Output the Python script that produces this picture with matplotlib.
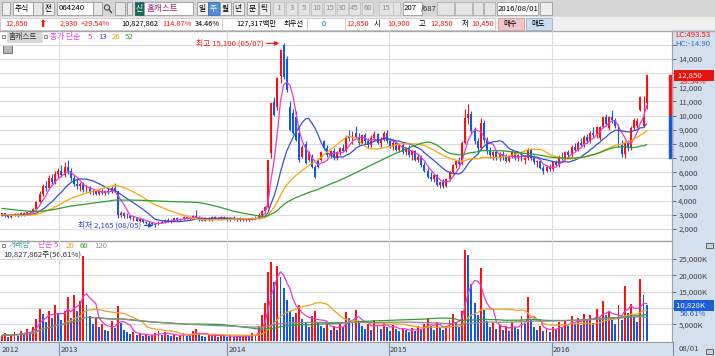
import pandas as pd
import matplotlib.pyplot as plt
from matplotlib.patches import Rectangle, Circle
from matplotlib.transforms import blended_transform_factory

plt.rcParams['font.family'] = ['Noto Sans CJK KR', 'DejaVu Sans']

W, H = 715, 356

# closes of the 51 weeks before the first visible candle (only feed the moving averages)
hist_closes = [4300, 4250, 4200, 4300, 4150, 4100, 4200, 4050, 4000, 4100, 3950, 3900, 4000, 3850, 3800, 3900, 3750, 3700,
               3800, 3650, 3600, 3700, 3550, 3500, 3450, 3400, 3300, 3250, 3200, 3150, 3100, 3050, 3100, 3000, 2950, 3000,
               2900, 2950, 2900, 2850, 2900, 2950, 2900, 2950, 3000, 2950, 3000, 2900, 2950, 3000, 3050]

# weekly candles (won)
opens = [3000, 3100, 2900, 2850, 2950, 3050, 2950, 3100, 3050, 3200, 3250, 3400, 3900, 4500, 5000, 4900, 5600, 5300, 5900, 6100,
         5800, 6400, 6100, 5600, 5200, 5000, 5150, 4750, 4950, 4600, 4700, 4500, 4650, 4550, 4700, 4600, 4900, 4650, 3000, 3100,
         2900, 2950, 2750, 2800, 2600, 2700, 2500, 2450, 2400, 2350, 2300, 2500, 2450, 2650, 2550, 2600, 2750, 2650, 2700, 2850,
         2750, 2800, 2950, 2850, 2650, 2600, 2750, 2650, 2850, 2750, 2700, 2850, 2750, 2650, 2800, 2700, 2750, 2650, 2700, 2650,
         2700, 2800, 2750, 3000, 3250, 3550, 7350, 10950, 10600, 12800, 15000, 14000, 10600, 10200, 9900, 8800, 7100, 8000, 6900, 7100,
         6400, 6800, 6900, 8200, 7700, 7200, 7500, 7000, 7400, 7700, 7500, 8500, 8400, 8800, 8500, 8100, 8600, 8200, 7900, 8400,
         8700, 8100, 8300, 8800, 8200, 7800, 8100, 7600, 7900, 7400, 7700, 7200, 7500, 6900, 7100, 6500, 6100, 5700, 5500, 5800,
         5100, 5300, 5000, 5500, 6000, 6500, 6800, 6600, 8100, 9800, 10100, 8900, 8200, 7700, 9500, 8300, 7500, 7200, 7400, 7000,
         7300, 7100, 6800, 7100, 7400, 7000, 7200, 6900, 7000, 7600, 7000, 6700, 6800, 6300, 6100, 6400, 6200, 6700, 6500, 7100,
         7000, 7400, 7200, 7800, 7600, 8100, 7900, 8500, 8200, 8800, 8600, 8400, 9200, 9900, 9100, 9900, 9700, 9300, 7900, 7300,
         8100, 7700, 9100, 9300, 10400, 9300, 10900]
highs = [3150, 3150, 3000, 3050, 3150, 3100, 3200, 3200, 3300, 3350, 3500, 4000, 4700, 5200, 5400, 5800, 5900, 6100, 6300, 6500,
         6700, 6900, 6300, 5800, 5500, 5300, 5300, 5100, 5000, 4800, 4800, 4750, 4800, 4750, 4900, 5000, 5250, 4700, 3300, 3200,
         3100, 3000, 2900, 2850, 2750, 2750, 2600, 2550, 2500, 2450, 2550, 2650, 2700, 2750, 2700, 2800, 2850, 2800, 2900, 3000,
         2900, 3000, 3350, 2950, 2750, 2800, 2850, 2900, 2950, 2850, 2900, 2950, 2850, 2850, 2900, 2800, 2850, 2800, 2800, 2750,
         2850, 2900, 3100, 3350, 3600, 6900, 10900, 11300, 12700, 14700, 15100, 14200, 11000, 10500, 10300, 9200, 7900, 8200, 7500, 7300,
         6500, 7000, 7500, 8300, 7900, 7600, 7700, 7500, 7800, 8000, 8600, 9000, 8900, 9300, 8800, 8700, 8800, 8400, 8600, 8900,
         8800, 8500, 8900, 9000, 8400, 8300, 8200, 8000, 8100, 7800, 7900, 7600, 7600, 7300, 7200, 6700, 6300, 6000, 5900, 5900,
         5400, 5500, 5600, 6100, 6600, 6900, 7100, 8200, 10500, 10800, 10300, 9200, 8400, 9800, 9700, 8500, 7800, 7500, 7600, 7400,
         7500, 7300, 7200, 7600, 7500, 7300, 7400, 7100, 7700, 7700, 7200, 6900, 6900, 6500, 6500, 6600, 6800, 6900, 7200, 7400,
         7500, 7600, 7900, 8100, 8200, 8400, 8600, 8700, 8900, 9200, 9300, 9300, 10000, 10100, 10000, 10400, 9800, 9400, 8300, 8200,
         8300, 9300, 9800, 9800, 11400, 11400, 12850]
lows = [2900, 2850, 2750, 2800, 2900, 2850, 2900, 2950, 3000, 3100, 3200, 3350, 3800, 4300, 4700, 4800, 5100, 5200, 5600, 5700,
        5700, 5900, 5400, 5000, 4800, 4700, 4600, 4600, 4450, 4400, 4400, 4400, 4450, 4400, 4500, 4550, 4600, 2800, 2850, 2800,
        2750, 2650, 2600, 2550, 2500, 2450, 2350, 2300, 2250, 2165, 2250, 2400, 2400, 2500, 2450, 2550, 2600, 2550, 2650, 2700,
        2650, 2750, 2800, 2600, 2550, 2550, 2600, 2600, 2700, 2650, 2650, 2700, 2600, 2600, 2650, 2600, 2600, 2550, 2600, 2550,
        2650, 2700, 2700, 2950, 3150, 3500, 7000, 10000, 10400, 12300, 12600, 11700, 8900, 8700, 8200, 6700, 7000, 6600, 6800, 6300,
        5600, 6300, 6800, 7600, 7100, 7000, 6900, 6900, 7200, 7400, 7400, 8200, 8000, 8400, 7900, 8000, 8000, 7700, 7800, 8200,
        8000, 7800, 8200, 8100, 7700, 7600, 7500, 7400, 7300, 7200, 7100, 6900, 6800, 6700, 6400, 6000, 5600, 5400, 5300, 5000,
        4900, 4900, 4950, 5400, 5900, 6300, 6500, 6500, 8000, 9400, 8700, 8000, 7500, 7600, 8100, 7300, 7000, 6900, 6900, 6800,
        6900, 6700, 6700, 7000, 6900, 6800, 6800, 6600, 6900, 6900, 6600, 6400, 6200, 5900, 6000, 6100, 6100, 6400, 6400, 6900,
        6900, 7100, 7100, 7500, 7500, 7800, 7800, 8100, 8100, 8500, 8400, 8300, 9100, 9300, 9000, 9500, 9100, 7800, 7100, 7000,
        7500, 7600, 9000, 9100, 10300, 9200, 10450]
closes = [3100, 2900, 2850, 2950, 3050, 2950, 3100, 3050, 3200, 3250, 3400, 3900, 4500, 5000, 4900, 5600, 5300, 5900, 6100, 5800,
          6400, 6100, 5600, 5200, 5000, 5150, 4750, 4950, 4600, 4700, 4500, 4650, 4550, 4700, 4600, 4900, 4650, 3000, 3100, 2900,
          2950, 2750, 2800, 2600, 2700, 2500, 2450, 2400, 2350, 2300, 2500, 2450, 2650, 2550, 2600, 2750, 2650, 2700, 2850, 2750,
          2800, 2950, 2850, 2650, 2600, 2750, 2650, 2850, 2750, 2700, 2850, 2750, 2650, 2800, 2700, 2750, 2650, 2700, 2650, 2700,
          2800, 2750, 3000, 3250, 3550, 6870, 10900, 10050, 12650, 14600, 12700, 11800, 9000, 8800, 8300, 6900, 7800, 6650, 7400, 6400,
          5700, 6400, 7400, 7700, 7200, 7500, 7000, 7400, 7700, 7500, 8500, 8400, 8800, 8500, 8100, 8600, 8200, 7900, 8400, 8700,
          8100, 8300, 8800, 8200, 7800, 8100, 7600, 7900, 7400, 7700, 7200, 7500, 6900, 7100, 6500, 6100, 5700, 5500, 5800, 5100,
          5300, 5000, 5500, 6000, 6500, 6800, 6600, 8100, 9800, 10100, 8900, 8200, 7700, 9500, 8300, 7500, 7200, 7400, 7000, 7300,
          7100, 6800, 7100, 7400, 7000, 7200, 6900, 7000, 7600, 7000, 6700, 6800, 6300, 6100, 6400, 6200, 6700, 6500, 7100, 7000,
          7400, 7200, 7800, 7600, 8100, 7900, 8500, 8200, 8800, 8600, 9200, 9200, 9900, 9400, 9900, 9700, 9300, 7900, 7300, 8100,
          7700, 9100, 9700, 9600, 11300, 9920, 12850]
# weekly volume (thousand shares)
volumes = [1500, 2200, 1200, 1800, 2600, 1400, 3000, 2000, 3500, 2400, 4200, 6500, 9800, 8200, 5600, 9000, 7000, 11000, 8400, 6200,
           9000, 13500, 7000, 14000, 9000, 12000, 26000, 11000, 7500, 5200, 6800, 4200, 5000, 3400, 2800, 6000, 4000, 10500, 5500, 3200,
           2600, 2000, 2500, 1800, 2200, 1500, 1900, 1300, 1600, 2400, 3000, 1800, 2500, 1600, 1400, 2000, 1200, 1700, 2300, 1500,
           1300, 2800, 3500, 2000, 1400, 1100, 1800, 1500, 2100, 1200, 1600, 1300, 1000, 1700, 1200, 1500, 1100, 1400, 1800, 1300,
           2200, 1700, 4500, 7800, 11500, 21000, 24000, 18000, 23000, 19500, 16000, 12500, 9000, 7200, 8500, 11000, 6500, 5400, 4300, 7600,
           9200, 5800, 4600, 3900, 5100, 3300, 4400, 3100, 5600, 4200, 8800, 7000, 5300, 9400, 6100, 4500, 3700, 5000, 3200, 6300,
           4700, 3600, 5500, 4100, 3000, 4800, 3500, 2800, 4000, 3100, 2600, 3800, 2900, 4400, 3300, 5200, 6800, 4500, 3400, 5800,
           4000, 3200, 4600, 6400, 8200, 5500, 4300, 9200, 27700, 26400, 17500, 11400, 8000, 22300, 9500, 6000, 4200, 5400, 3600, 4900,
           3300, 4400, 3000, 5800, 4300, 3500, 7500, 5200, 13300, 6600, 4100, 3200, 4500, 2900, 3800, 2600, 4200, 3500, 5600, 4000,
           6300, 4600, 7400, 5100, 6800, 4800, 8300, 5900, 7800, 5400, 9600, 6700, 12000, 7700, 9000, 6200, 5200, 10800, 6400, 16600,
           8500, 11200, 7100, 5800, 19000, 14000, 10828]

price_ticks = [2000, 3000, 4000, 5000, 6000, 7000, 8000, 9000, 10000, 11000, 12000, 13000, 14000, 15000]
price_hidden = [13000, 15000]          # covered by the price box / LC-HC text
vol_ticks = [5000, 10000, 15000, 20000, 25000]
vol_hidden = [10000]                   # covered by the volume box
year_labels = ['2012', '2013', '2014', '2015', '2016']
year_idx = [-0.6, 18.2, 71.9, 123.6, 175.7]

RED = '#ff1010'
BLUE = '#1058e8'
GRID = '#dcdcdc'
AXBG = '#d5e0ef'
FS = 5.6
FS2 = 5.3

n = len(closes)
idx = list(range(n))
cs = pd.Series(hist_closes + closes)
vs = pd.Series(volumes)
nh = len(hist_closes)


def px_axes(fig, x0, y0, x1, y1):
    return fig.add_axes([x0 / W, 1 - y1 / H, (x1 - x0) / W, (y1 - y0) / H])


fig = plt.figure(figsize=(W / 100, H / 100), dpi=100)

# overlay in pixel coordinates for the toolbar and frames
bg = fig.add_axes([0, 0, 1, 1], zorder=0)
bg.set_xlim(0, W)
bg.set_ylim(H, 0)
bg.axis('off')

bg.add_patch(Rectangle((0, 0), W, 17, color='#d6d6d6'))
bg.add_patch(Rectangle((0, 17), W, 13, color='#f0f0f0'))
bg.add_patch(Rectangle((0, 31), 672, 311, color='white'))
bg.add_patch(Rectangle((672, 30), 43, 326, color=AXBG))
bg.add_patch(Rectangle((0, 342), 672, 14, color=AXBG))
bg.plot([0, W], [30.5, 30.5], color='#a8a8a8', lw=1.0)


def box(x, y, w, h, fc='white', ec='#9a9a9a'):
    bg.add_patch(Rectangle((x, y), w, h, facecolor=fc, edgecolor=ec, lw=0.6))


def txt(x, y, s, c='black', size=FS, **kw):
    bg.text(x, y, s, color=c, fontsize=size, va='center', **kw)


# row 1
box(2, 2, 8, 13, '#eeeeee')
box(13, 2, 20, 13)
txt(15, 8.5, '주식')
box(33, 2, 9, 13, '#e8e8e8')
box(43, 2, 11, 13, '#eeeeee')
txt(45, 8.5, '전')
box(57, 2, 36, 13)
txt(58.5, 8.5, '064240')
box(93, 2, 9, 13, '#e8e8e8')
bg.add_patch(Circle((107, 7.5), 2.6, fill=False, ec='#505050', lw=0.8))
bg.plot([109, 111.5], [9.5, 12.5], color='#505050', lw=1.0)
box(115, 2, 10, 13, '#e8e8e8')
box(127, 2, 5, 13, '#e8e8e8')
box(135, 2, 9, 13, '#17695a', '#17695a')
txt(136, 8.5, '신', 'white')
box(144, 2, 49, 13)
txt(147, 8.5, '홈캐스트', '#a3206e', 6.2)
for lab, x0 in zip(['일', '주', '월', '년', '분', '틱'], [197, 208, 220, 233, 247, 259]):
    if lab == '주':
        box(x0, 2, 11, 13, '#4d8fdb', '#3d6fb0')
        txt(x0 + 1.5, 8.5, lab, 'white')
    else:
        box(x0, 2, 11, 13, '#efefef')
        txt(x0 + 1.5, 8.5, lab)
for lab, x0 in zip(['1', '3', '5', '10', '15', '30', '45', '60'], [273, 286, 298, 311, 324, 337, 349, 362]):
    box(x0, 2, 11, 13, '#e4e4e4', '#c4c4c4')
    txt(x0 + 5.5, 8.5, lab, '#8a8a8a', ha='center')
box(379, 2, 14, 13, '#e4e4e4', '#c4c4c4')
txt(381, 8.5, '15', '#8a8a8a')
box(393, 2, 7, 13, '#e4e4e4', '#c4c4c4')
box(403, 2, 19, 13)
txt(404, 8.5, '207')
txt(421, 8.5, '/687', '#303030')
for x0, w0 in [(437, 17), (455, 17), (473, 10), (484, 11)]:
    box(x0, 2, w0, 13, '#e4e4e4', '#b0b0b0')
box(497, 2, 41, 13)
txt(498, 8.5, '2016/08/01')
box(540, 2, 12, 13, '#eeeeee')

# row 2
box(0, 18, 222, 12, 'white', '#c8c8c8')
box(222, 18, 85, 12, 'white', '#c8c8c8')
box(307, 18, 38, 12, 'white', '#c8c8c8')
box(345, 18, 150, 12, 'white', '#c8c8c8')
txt(5, 24, '12,850', RED, FS2)
txt(38, 24, '⬆', RED, 7, family=['DejaVu Sans'])
txt(60, 24, '2,930', RED, FS2)
txt(81, 24, '+29.54%', RED, FS2)
txt(121, 24, '10,827,862', 'black', FS2)
txt(162, 24, '114.87%', RED, FS2)
txt(195, 24, '34.46%', 'black', FS2)
txt(236, 24, '127,317백만', 'black', FS2)
txt(284, 24, '최우선', 'black', FS2)
txt(322, 24, '0', BLUE, FS2)
txt(346, 24, '12,850', RED, FS2)
txt(374, 24, '시', 'black', FS2)
txt(387, 24, '10,900', RED, FS2)
txt(419, 24, '고', 'black', FS2)
txt(430, 24, '12,850', RED, FS2)
txt(462, 24, '저', 'black', FS2)
txt(471, 24, '10,450', RED, FS2)
box(498, 18, 26, 12, '#f2c6c6', '#c8a0a0')
txt(503, 24, '매수', 'black', FS2)
box(526, 18, 26, 12, '#c9ddf2', '#a0b0c8')
txt(531, 24, '매도', 'black', FS2)

# ---- price panel
ax = px_axes(fig, 0, 31, 672, 240)
ax.set_zorder(1)
ax.patch.set_visible(False)
ax.set_xlim(-0.64, 214.1)
ax.set_ylim(1224, 15973)

for i in idx:
    col = RED if closes[i] >= opens[i] else BLUE
    ax.vlines(i, lows[i], highs[i], color=col, lw=0.8)
    lo = min(opens[i], closes[i])
    hgt = max(abs(closes[i] - opens[i]), 40)
    ax.bar(i, hgt, bottom=lo, width=0.62, color=col, lw=0)

ma_cols = {5: '#e63ad8', 13: '#3a4fd0', 26: '#ffa500', 52: '#2ca02c'}
for w, c in ma_cols.items():
    ax.plot(idx, cs.rolling(w, min_periods=1).mean().iloc[nh:].values, color=c, lw=0.9)

ax.set_yticks(price_ticks)
ax.set_yticklabels(['' if v in price_hidden else f'{v:,}' for v in price_ticks])
ax.yaxis.tick_right()
ax.set_xticks(year_idx[1:])
ax.set_xticklabels([])
ax.tick_params(axis='y', labelsize=FS, labelcolor='#404040', length=3, width=0.6, pad=1.5, color='#505050')
ax.tick_params(axis='x', length=0)
ax.grid(True, color=GRID, lw=0.8)
ax.set_axisbelow(True)
for s in ['top', 'left', 'bottom']:
    ax.spines[s].set_visible(False)
ax.spines['right'].set_color('#a0a0a0')

# high / low notes
ax.annotate('최고 15,100 (05/07)', xy=(88.6, 15100), xytext=(62, 15100), color=RED, fontsize=FS,
            va='center', arrowprops=dict(arrowstyle='-|>', color=RED, lw=0.8, shrinkA=0, shrinkB=0, mutation_scale=6))
ax.annotate('최저 2,165 (08/05)', xy=(48.3, 2250), xytext=(24.3, 2250), color='#2a3fd0', fontsize=FS,
            va='center', arrowprops=dict(arrowstyle='-|>', color='#2a3fd0', lw=0.8, shrinkA=0, shrinkB=0, mutation_scale=6))

# last price marker and range bar on the axis edge
ax.add_patch(Rectangle((213.2, 10000), 0.9, closes[-1] - 10000, color=RED, clip_on=False))
ax.add_patch(Rectangle((213.2, 7000), 0.9, 3000, color=BLUE, clip_on=False))
tr = blended_transform_factory(ax.transAxes, ax.transData)
ax.text(1.006, closes[-1], f' {closes[-1]:,}      ', transform=tr, color='white', fontsize=FS, va='center',
        ha='left', zorder=5, bbox=dict(boxstyle='square,pad=0.2', fc='#e8140c', ec='none'))
ax.text(1.012, closes[-1] - 480, '29.54%', transform=tr, color=RED, fontsize=FS, va='center', ha='left', zorder=5)

txt(675, 35, 'LC:493.53', RED)
txt(675, 44.5, 'HC:-14.90', '#2a6fd0')

# price legend
box(2, 35, 3, 3, 'white', '#707070')
box(7, 32, 35, 10, '#d8d8d8', '#d8d8d8')
txt(8.5, 37, '홈캐스트', '#303030')
box(44, 35, 3, 3, 'white', '#707070')
txt(50, 37, '종가 단순', '#e63ad8')
txt(88, 37, '5', '#e63ad8')
txt(98, 37, '13', '#3a4fd0')
txt(112, 37, '26', '#f0a000')
txt(125, 37, '52', '#2ca02c')
box(3, 45, 9, 8, '#b8b8b8', '#606060')

# ---- volume panel
av = px_axes(fig, 0, 241, 672, 342)
av.set_zorder(1)
av.patch.set_visible(False)
av.set_xlim(-0.64, 214.1)
av.set_ylim(-430, 30550)
for i in idx:
    up = i == 0 or volumes[i] >= volumes[i - 1]
    av.bar(i, volumes[i], width=0.62, color=RED if up else BLUE, lw=0)
vma_cols = {5: '#e63ad8', 20: '#f0a020', 60: '#2ca02c', 120: '#8a8a8a'}
for w, c in vma_cols.items():
    av.plot(idx, vs.rolling(w, min_periods=1).mean(), color=c, lw=0.9)

av.set_yticks(vol_ticks)
av.set_yticklabels(['' if v in vol_hidden else f'{v:,}K' for v in vol_ticks])
av.yaxis.tick_right()
av.set_xticks(year_idx[1:])
av.set_xticklabels([])
av.tick_params(axis='y', labelsize=FS, labelcolor='#404040', length=3, width=0.6, pad=1.5, color='#505050')
av.tick_params(axis='x', length=0)
av.grid(True, color=GRID, lw=0.8)
av.set_axisbelow(True)
for s in ['top', 'left']:
    av.spines[s].set_visible(False)
av.spines['right'].set_color('#a0a0a0')
av.spines['bottom'].set_color('#a0a0a0')
trv = blended_transform_factory(av.transAxes, av.transData)
av.text(1.006, volumes[-1], f'{volumes[-1]:,}K    ', transform=trv, color='white', fontsize=FS, va='center',
        ha='left', zorder=5, bbox=dict(boxstyle='square,pad=0.2', fc='#1a5fd8', ec='none'))
av.text(1.012, volumes[-1] - 2700, '56.61%', transform=trv, color='#1a5fd8', fontsize=FS, va='center', ha='left',
        zorder=5)

# x labels in the bottom strip
tb = blended_transform_factory(av.transData, av.transAxes)
for lab, i in zip(year_labels, year_idx):
    if i > 0:
        av.plot([i, i], [0, -0.14], color='#8090a8', lw=0.8, transform=tb, clip_on=False)
    av.text(i + 0.4, -0.075, lab, transform=tb, fontsize=FS, color='#404040', va='center', ha='left')
bg.plot([672.5, 672.5], [342, 356], color='#8090a8', lw=0.8)
txt(679, 349, '08/01', '#404040')

# volume legend
box(2, 244, 3, 3, 'white', '#707070')
txt(9, 245.5, '거래량', '#1aa0a0')
txt(38, 245.5, '단순 5', '#e63ad8')
txt(66, 245.5, '20', '#f0a000')
txt(80, 245.5, '60', '#2ca02c')
txt(94, 245.5, '120', '#909090')
txt(3, 254.5, '10,827,862주(56.61%)', '#303030')
box(706, 243, 7, 5, '#d0d0d0', '#505050')
box(706, 349, 7, 5, '#d0d0d0', '#505050')

bg.plot([0, 672], [240.5, 240.5], color='#a0a0a0', lw=1.0, zorder=5)

fig.savefig('out.png', dpi=100)
